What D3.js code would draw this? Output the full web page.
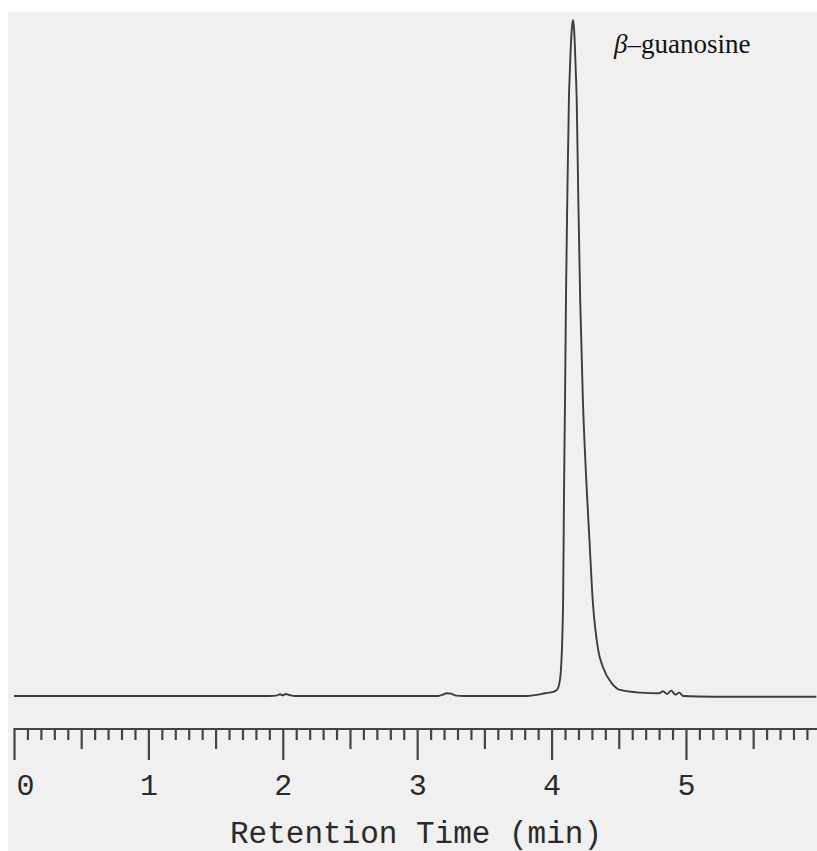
<!DOCTYPE html>
<html>
<head>
<meta charset="utf-8">
<script src="https://cdn.jsdelivr.net/npm/d3@7"></script>
<style>
  html, body { margin: 0; padding: 0; background: #ffffff; }
  svg { display: block; }
</style>
</head>
<body>
<div id="chart"></div>
<script>
// Chromatogram trace: retention time (min) and detector response (% of peak height)
const retentionTime = [
  0.00, 0.50, 1.00, 1.50, 1.90, 1.95, 1.98, 2.00, 2.02, 2.05, 2.09,
  2.50, 3.00, 3.15, 3.19, 3.22, 3.25, 3.29, 3.35, 3.82, 3.90, 3.95,
  4.010, 4.040, 4.058, 4.071, 4.086, 4.092, 4.100, 4.107, 4.117, 4.129, 4.137, 4.150, 4.159,
  4.168, 4.179, 4.187, 4.199, 4.213, 4.233, 4.258, 4.282, 4.306, 4.347, 4.382, 4.447, 4.509, 4.658,
  4.80, 4.83, 4.86, 4.89, 4.92, 4.95, 4.98, 5.20, 5.97
];
const signal = [
  0.0, 0.0, 0.0, 0.0, 0.0, 0.05, 0.25, 0.1, 0.3, 0.15, 0.0,
  0.0, 0.0, 0.0, 0.2, 0.4, 0.35, 0.05, 0.0, 0.0, 0.2, 0.4,
  0.6, 0.9, 1.9, 4.3, 14.2, 28.9, 43.8, 58.6, 73.4, 88.2, 93.0, 98.5, 100.0,
  98.5, 93.0, 88.2, 73.4, 58.6, 43.8, 32.0, 23.0, 14.2, 6.8, 4.3, 1.9, 0.9, 0.5,
  0.4, 0.7, 0.3, 0.8, 0.2, 0.5, 0.0, -0.1, -0.1
];
const majorTicks = [0, 1, 2, 3, 4, 5];
const peakName = "guanosine";
const peakPrefix = "\u03B2";
const axisTitle = "Retention Time (min)";

const W = 817, H = 851;
const svg = d3.select("#chart").append("svg")
  .attr("width", W).attr("height", H);

// paper tone of the recorder chart
svg.append("rect").attr("x", 8).attr("y", 12)
  .attr("width", W - 8).attr("height", H - 12)
  .attr("fill", "#f0f0f0");

const x = d3.scaleLinear().domain([0, 5.975]).range([14, 817]);
const y = d3.scaleLinear().domain([0, 100]).range([696, 20]);

// trace
const points = retentionTime.map((t, i) => [t, signal[i]]);
const line = d3.line()
  .x(d => x(d[0]))
  .y(d => y(d[1]))
  .curve(d3.curveMonotoneX);
svg.append("path")
  .datum(points)
  .attr("d", line)
  .attr("fill", "none")
  .attr("stroke", "#3c3c3c")
  .attr("stroke-width", 1.9)
  .attr("stroke-linejoin", "round");

// time ruler: minor ticks every 0.1 min, longer at half and whole minutes
const minorTicks = d3.range(0, 60).map(i => i / 10);
const axisY = 729;
const ruler = svg.append("g")
  .attr("transform", `translate(0,${axisY})`)
  .call(d3.axisBottom(x).tickValues(minorTicks).tickSize(11).tickSizeOuter(0).tickFormat(""));
ruler.select(".domain")
  .attr("stroke", "#444").attr("stroke-width", 2.2)
  .attr("d", `M${x(0)},0H${W}`);
ruler.selectAll(".tick line")
  .attr("stroke", "#444").attr("stroke-width", 2.2)
  .attr("y1", -1)
  .attr("y2", d => {
    const k = Math.round(d * 10);
    if (k % 10 === 0) return 31;
    if (k % 5 === 0) return 20;
    return 11;
  });

// minute labels
const labels = svg.append("g")
  .attr("transform", `translate(0,${axisY})`)
  .call(d3.axisBottom(x).tickValues(majorTicks).tickSize(0).tickFormat(d3.format("d")));
labels.select(".domain").remove();
labels.selectAll(".tick text")
  .attr("y", 66)
  .attr("dy", 0)
  .attr("dx", (d, i) => i === 0 ? 2 : 0)
  .attr("text-anchor", (d, i) => i === 0 ? "start" : "middle")
  .attr("fill", "#2a2a2a")
  .style("font-family", "'Liberation Mono', 'DejaVu Sans Mono', monospace")
  .style("font-size", "30px");

// axis title
svg.append("text")
  .attr("x", 416).attr("y", 843)
  .attr("text-anchor", "middle")
  .attr("fill", "#2a2a2a")
  .style("font-family", "'Liberation Mono', 'DejaVu Sans Mono', monospace")
  .style("font-size", "31px")
  .text(axisTitle);

// peak annotation
const ann = svg.append("text")
  .attr("x", 614).attr("y", 53)
  .attr("fill", "#111")
  .style("font-family", "'Liberation Serif', 'Times New Roman', serif")
  .style("font-size", "27px");
ann.append("tspan").style("font-style", "italic").text(peakPrefix);
ann.append("tspan").text("\u2013" + peakName);
</script>
</body>
</html>
